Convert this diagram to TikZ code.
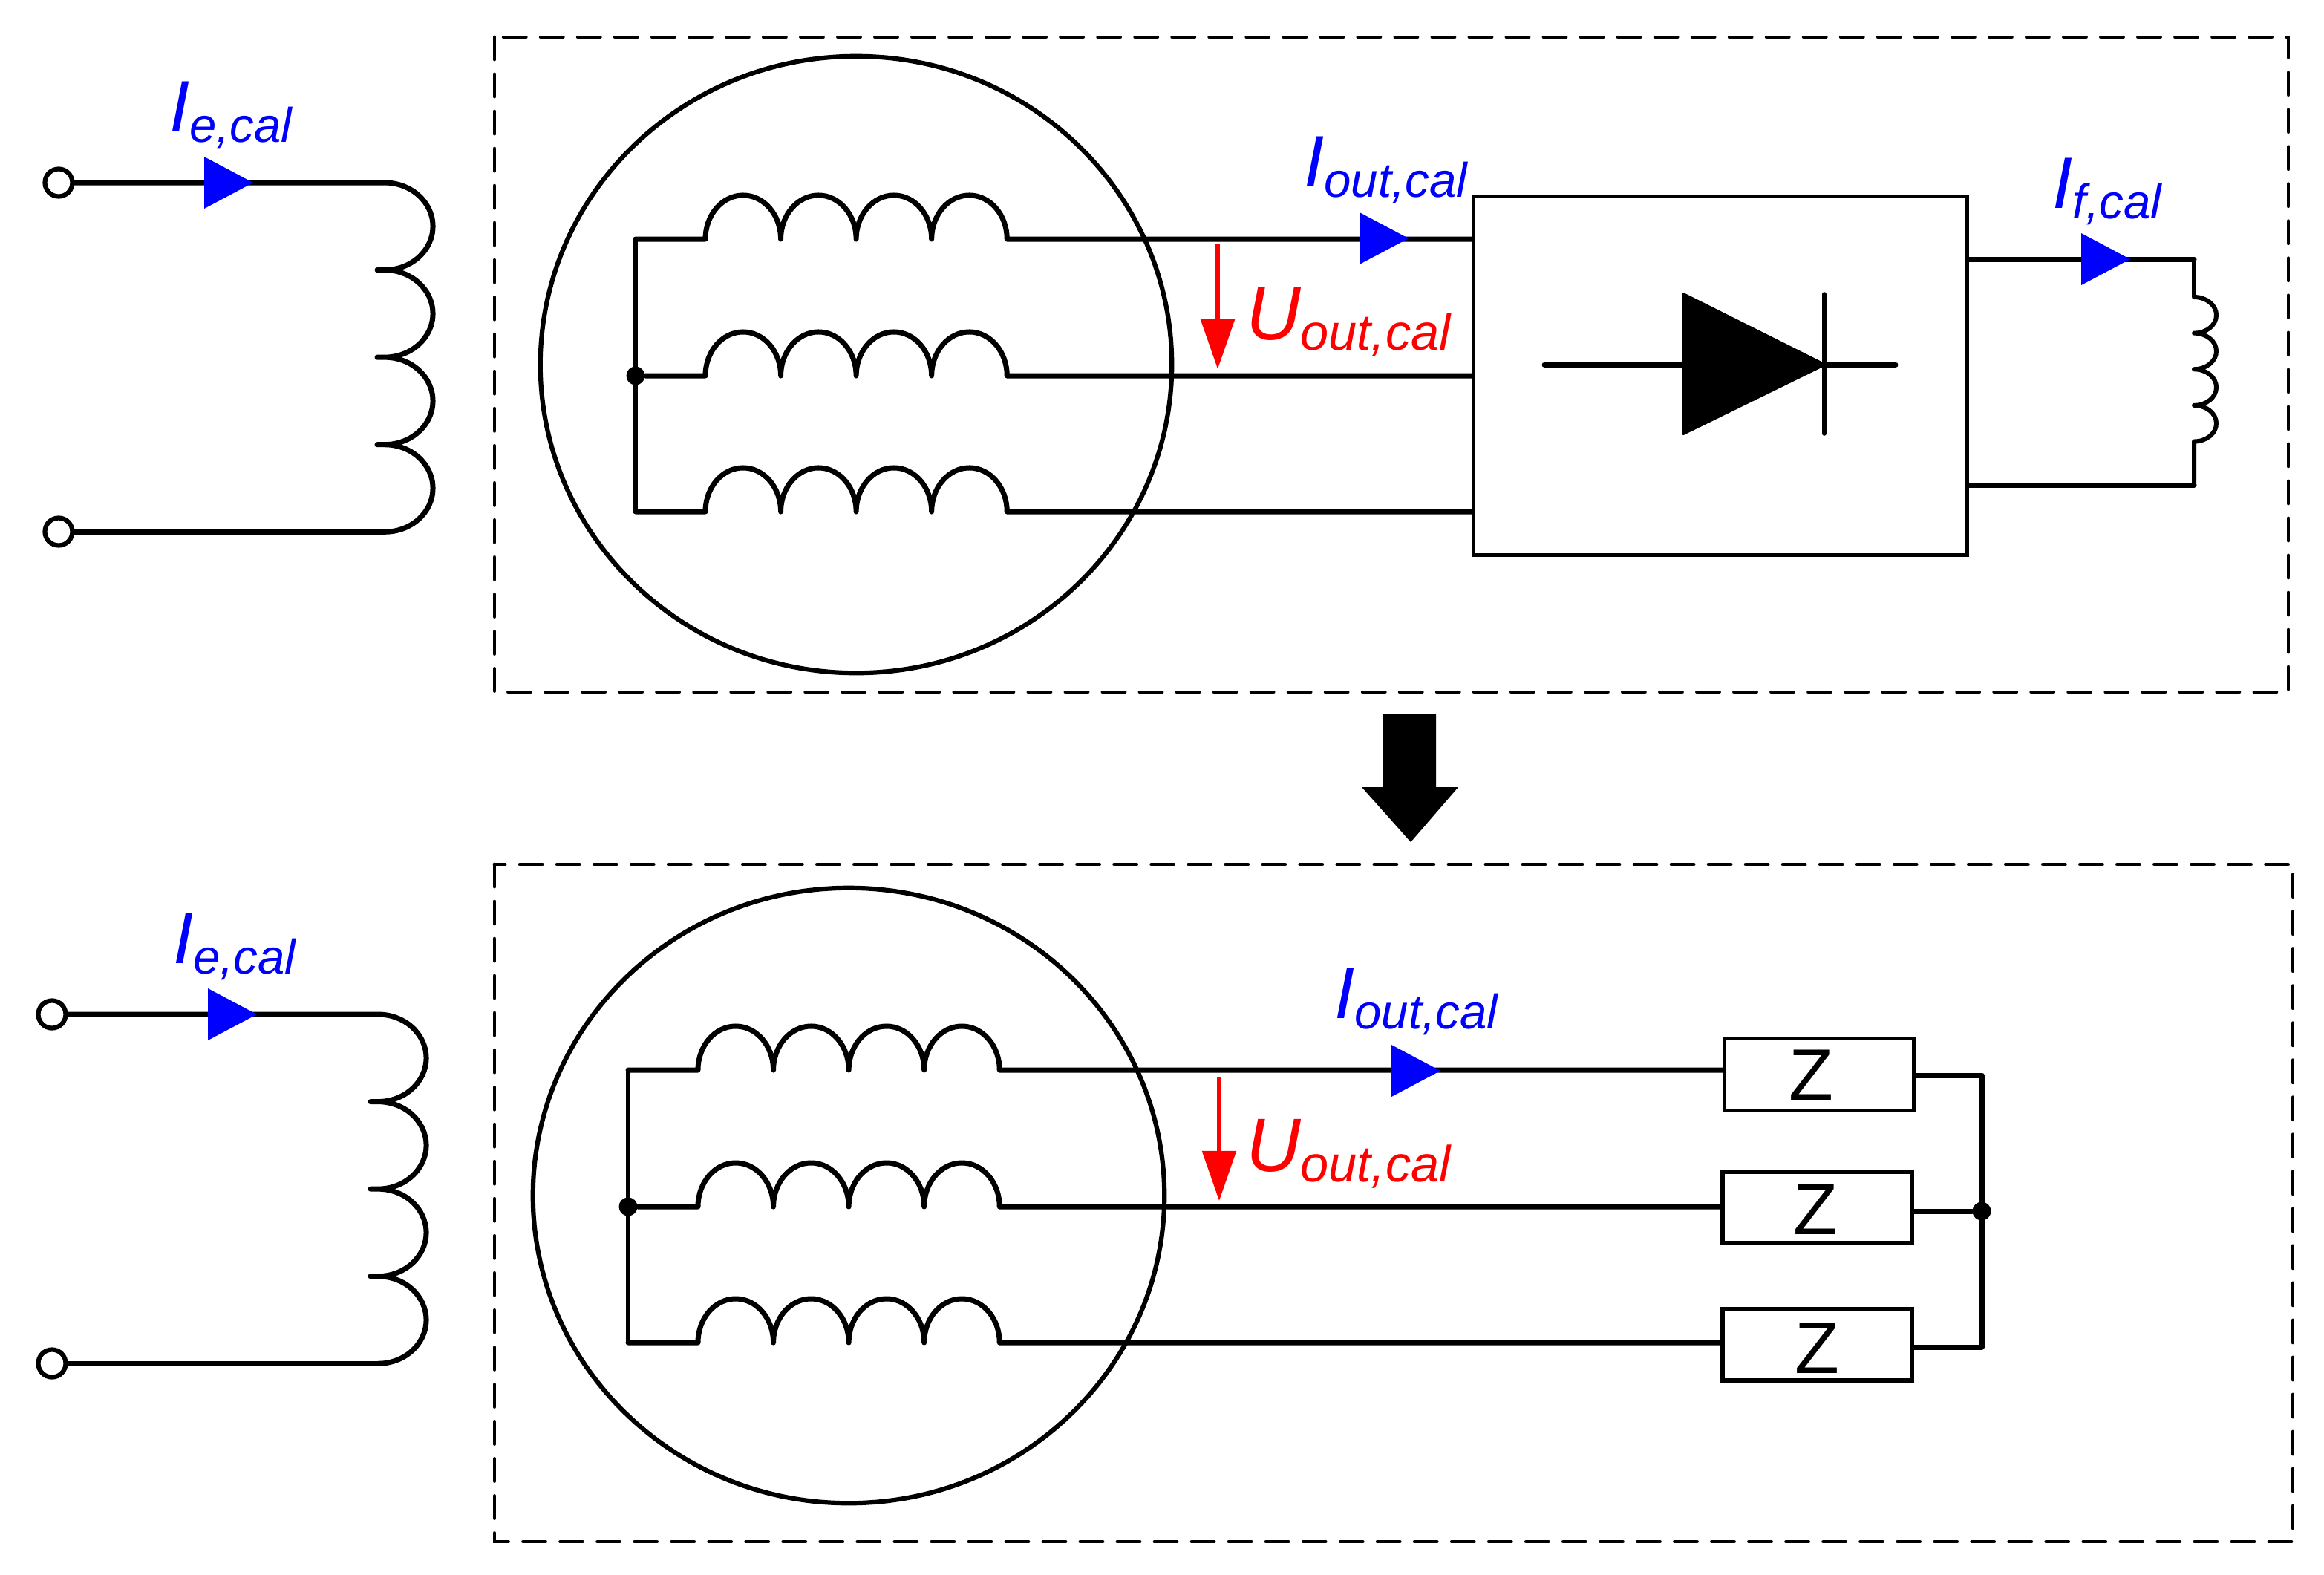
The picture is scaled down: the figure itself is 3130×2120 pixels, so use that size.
\documentclass[tikz,border=0pt]{standalone}
\usepackage{fontspec}
\setmainfont{Liberation Sans}
\usetikzlibrary{arrows.meta,calc}
\definecolor{pblue}{RGB}{0,0,255}
\definecolor{pred}{RGB}{255,0,0}
\tikzset{
  wire/.style={draw=black,line width=0.07cm,line join=round,line cap=round},
  thinwire/.style={draw=black,line width=0.056cm,line join=round},
  dashbox/.style={draw=black,line width=0.048cm,line cap=round,dash pattern=on 0.30cm off 0.20cm},
  stator/.style={draw=black,line width=0.062cm},
  dotnode/.style={circle,fill=black,draw=none,minimum size=0.25cm,inner sep=0pt},
  terminal/.style={circle,fill=white,draw=black,line width=0.062cm,minimum size=0.37cm,inner sep=0pt},
  boxnode/.style={draw=black,line width=0.052cm,inner sep=0pt,fill=white},
  txt/.style={anchor=base west,inner sep=0pt,outer sep=0pt},
  ztxt/.style={anchor=base,inner sep=0pt,outer sep=0pt,font=\fontsize{27.9}{30}\selectfont},
  redarrow/.style={draw=pred,line width=0.055cm,-{Triangle[length=0.67cm,width=0.45cm,fill=pred]}},
  humps/.style={insert path={
    arc[start angle=180,end angle=0,x radius=0.5075cm,y radius=0.59cm]
    arc[start angle=180,end angle=0,x radius=0.5075cm,y radius=0.59cm]
    arc[start angle=180,end angle=0,x radius=0.5075cm,y radius=0.59cm]
    arc[start angle=180,end angle=0,x radius=0.5075cm,y radius=0.59cm]}},
  fieldarc/.style={insert path={arc[start angle=90,end angle=-90,x radius=0.65cm,y radius=0.5875cm]}},
  smallarc/.style={insert path={arc[start angle=90,end angle=-90,x radius=0.30cm,y radius=0.243cm]}},
}
\newcommand{\lbl}[5]{\node[txt] (#1) at (#2,#3) {\color{pblue}\itshape\fontsize{27.9}{30}\selectfont #4\raisebox{-0.14cm}{\fontsize{18.6}{20}\selectfont #5}};}
\newcommand{\lblred}[4]{\node[txt] (#1) at (#2,#3) {\color{pred}\itshape\fontsize{29}{30}\selectfont U\raisebox{-0.14cm}{\fontsize{19.5}{20}\selectfont #4}};}
\newcommand{\bluetri}[2]{\fill[pblue] (#1,#2-35) -- (#1+66,#2) -- (#1,#2+35) -- cycle;}
\newcommand{\fieldcoil}[4]{%
  \node[terminal] (#1a) at (#2,#3) {};
  \node[terminal] (#1b) at (#2,#3+470) {};
  \coordinate (#1c) at (#4,#3);
  \coordinate (#1d) at (#4,#3+470);
  \draw[wire] (#1a) -- (#1c) [fieldarc] -- ++(-10,0) -- ++(10,0) [fieldarc] -- ++(-10,0) -- ++(10,0) [fieldarc] -- ++(-10,0) -- ++(10,0) [fieldarc];
  \draw[wire] (#1b) -- (#1d);
}
\begin{document}
\begin{tikzpicture}[x=0.01cm,y=-0.01cm]
\useasboundingbox (0,0) rectangle (3130,2120);
\fill[white] (0,0) rectangle (3130,2120);

% ---------- top ----------
\draw[dashbox] (666,50) rectangle (3082,932);
\draw[stator] (1153,491) ellipse[x radius=4.25cm,y radius=4.15cm];
\fieldcoil{ft}{79}{246}{518}
\bluetri{275}{246}
\lbl{ie1}{228}{177}{I}{e,cal}

\node[boxnode,minimum width=6.64cm,minimum height=4.82cm] (rect) at (2317,506) {};
\coordinate (sa1) at (950,322);
\coordinate (sa2) at (950,506);
\coordinate (sa3) at (950,689);
\coordinate (bus1) at (856,322);
\coordinate (bus3) at (856,689);
\node[dotnode] (star1) at (856,506) {};
\draw[thinwire] (bus1) -- (bus3);
\draw[wire] (bus1) -- (sa1) [humps] -- (rect.west |- sa1);
\draw[wire] (star1) -- (sa2) [humps] -- (rect.west |- sa2);
\draw[wire] (bus3) -- (sa3) [humps] -- (rect.west |- sa3);
\bluetri{1831}{321}
\lbl{iout1}{1756}{251}{I}{out,cal}
\coordinate (ua1) at (1640,329);
\coordinate (ub1) at (1640,497);
\draw[redarrow] (ua1) -- (ub1);
\lblred{uout1}{1678}{457}{out,cal}

% diode
\coordinate (da) at (2080,491);
\coordinate (dk) at (2553,491);
\coordinate (dt) at (2267,396);
\coordinate (db) at (2267,584);
\coordinate (dc) at (2457,491);
\draw[wire] (da) -- (dk);
\fill[black] (dt) -- (dc) -- (db) -- cycle;
\draw[black,line width=0.04cm,line join=round] (dt) -- (dc) -- (db) -- cycle;
\draw[thinwire,line cap=round] (2457,396) -- (2457,584);

% excitation output
\coordinate (fo1) at (2955,349);
\coordinate (fo2) at (2955,653);
\coordinate (fs) at (2955,400);
\draw[wire] (rect.east |- fo1) -- (fo1);
\draw[wire] (rect.east |- fo2) -- (fo2);
\draw[thinwire] (fo1) -- (fs);
\draw[thinwire,line width=0.06cm,line cap=round] (fs) [smallarc] [smallarc] [smallarc] [smallarc] -- (fo2);
\bluetri{2803}{349}
\lbl{if1}{2764}{280}{I}{f,cal}

% big arrow
\fill[black] (1862,962) -- (1934,962) -- (1934,1060) -- (1964,1060) -- (1900,1134) -- (1834,1060) -- (1862,1060) -- cycle;

% ---------- bottom ----------
\draw[dashbox] (666,1164) rectangle (3088,2076);
\draw[stator] (1143,1610) ellipse[x radius=4.25cm,y radius=4.14cm];
\fieldcoil{fb}{70}{1366}{509}
\bluetri{280}{1366}
\lbl{ie2}{233}{1297}{I}{e,cal}

\node[boxnode,minimum width=2.55cm,minimum height=0.97cm] (z1) at (2450,1447) {};
\node[boxnode,minimum width=2.55cm,minimum height=0.96cm] (z2) at (2447.5,1626) {};
\node[boxnode,minimum width=2.55cm,minimum height=0.96cm] (z3) at (2447.5,1811) {};
\node[ztxt] (zt1) at (2439,1481) {Z};
\node[ztxt] (zt2) at (2445,1662) {Z};
\node[ztxt] (zt3) at (2447,1849) {Z};

\coordinate (sb1) at (940,1441);
\coordinate (sb2) at (940,1625);
\coordinate (sb3) at (940,1808);
\coordinate (bbus1) at (846,1441);
\coordinate (bbus3) at (846,1808);
\node[dotnode] (star2) at (846,1625) {};
\draw[thinwire] (bbus1) -- (bbus3);
\draw[wire] (bbus1) -- (sb1) [humps] -- (z1.west |- sb1);
\draw[wire] (star2) -- (sb2) [humps] -- (z2.west |- sb2);
\draw[wire] (bbus3) -- (sb3) [humps] -- (z3.west |- sb3);
\bluetri{1874}{1442}
\lbl{iout2}{1797}{1371}{I}{out,cal}
\coordinate (ua2) at (1642,1450);
\coordinate (ub2) at (1642,1617);
\draw[redarrow] (ua2) -- (ub2);
\lblred{uout2}{1678}{1577}{out,cal}

\coordinate (zo1) at (2669,1448);
\node[dotnode] (star3) at (2669,1631) {};
\coordinate (zo3) at (2669,1814);
\draw[wire] (z1.east |- zo1) -- (zo1) -- (zo3) -- (z3.east |- zo3);
\draw[wire] (z2.east |- star3) -- (star3);
\end{tikzpicture}
\end{document}
